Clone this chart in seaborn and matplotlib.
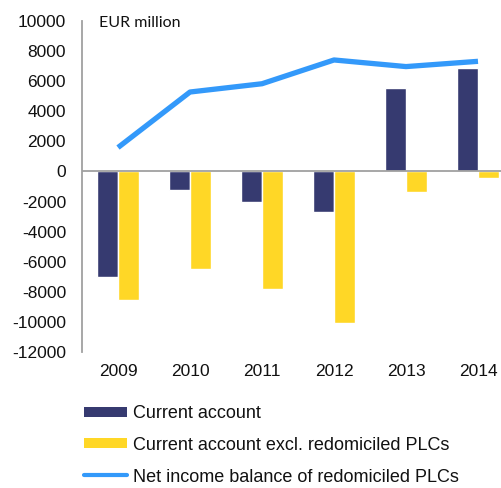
import matplotlib
matplotlib.use("Agg")
import matplotlib.pyplot as plt
import seaborn as sns
import numpy as np
import pandas as pd
from matplotlib.lines import Line2D

years = ["2009", "2010", "2011", "2012", "2013", "2014"]
current_account = [-7020, -1230, -2010, -2680, 5570, 6850]
current_excl_plcs = [-8570, -6500, -7830, -10050, -1370, -430]
net_income_plcs = [1590, 5280, 5830, 7410, 6970, 7320]
series_names = ["Current account", "Current account excl. redomiciled PLCs",
                "Net income balance of redomiciled PLCs"]
yticks = list(range(-12000, 10001, 2000))

NAVY = "#363A70"
YELLOW = "#FFD726"
BLUE = "#3399FA"

sns.set_style("white")
plt.rcParams["font.family"] = ["Liberation Sans", "DejaVu Sans"]

df = pd.DataFrame({
    "year": years * 2,
    "value": current_account + current_excl_plcs,
    "series": [series_names[0]] * len(years) + [series_names[1]] * len(years),
})

fig = plt.figure(figsize=(5.02, 4.88), dpi=100)
ax = fig.add_axes([82 / 502, 1 - 352 / 488, 432 / 502, 331 / 488])

sns.barplot(data=df, x="year", y="value", hue="series", order=years,
            palette=[NAVY, YELLOW], width=0.57, gap=0, saturation=1,
            legend=False, ax=ax)
sns.lineplot(x=np.arange(len(years)), y=net_income_plcs, color=BLUE,
             linewidth=3.8, solid_capstyle="butt", ax=ax)

ax.set_xlim(-0.5, len(years) - 0.5)
ax.set_ylim(-12000, 10000)
ax.set_yticks(yticks)
ax.set_yticklabels([str(t) for t in yticks], fontsize=12.5, color="#111111")
ax.tick_params(axis="x", labelsize=12.5, colors="#111111", pad=9, length=0)
ax.tick_params(axis="y", length=0, pad=11.5)
ax.set_xlabel("")
ax.set_ylabel("")

for s in ["top", "right", "bottom"]:
    ax.spines[s].set_visible(False)
ax.spines["left"].set_color("#A0A0A0")
ax.spines["left"].set_linewidth(1.3)
ax.axhline(0, color="#A0A0A0", linewidth=1.3, zorder=5)

ax.text(0.04, (352 - 23) / 331, "EUR million", transform=ax.transAxes,
        family="Lato", fontsize=11.5, color="#111111", va="center", ha="left")

handles = [
    Line2D([], [], color=NAVY, linewidth=7.2, solid_capstyle="butt"),
    Line2D([], [], color=YELLOW, linewidth=7.2, solid_capstyle="butt"),
    Line2D([], [], color=BLUE, linewidth=3, solid_capstyle="round"),
]
fig.legend(handles, series_names, loc="upper left",
           bbox_to_anchor=(84 / 502, 1 - 405 / 488), frameon=False,
           borderaxespad=0, borderpad=0,
           fontsize=13, handlelength=2.4, handletextpad=0.3,
           labelspacing=0.82, labelcolor="#111111")

fig.savefig("out.png", dpi=100)
